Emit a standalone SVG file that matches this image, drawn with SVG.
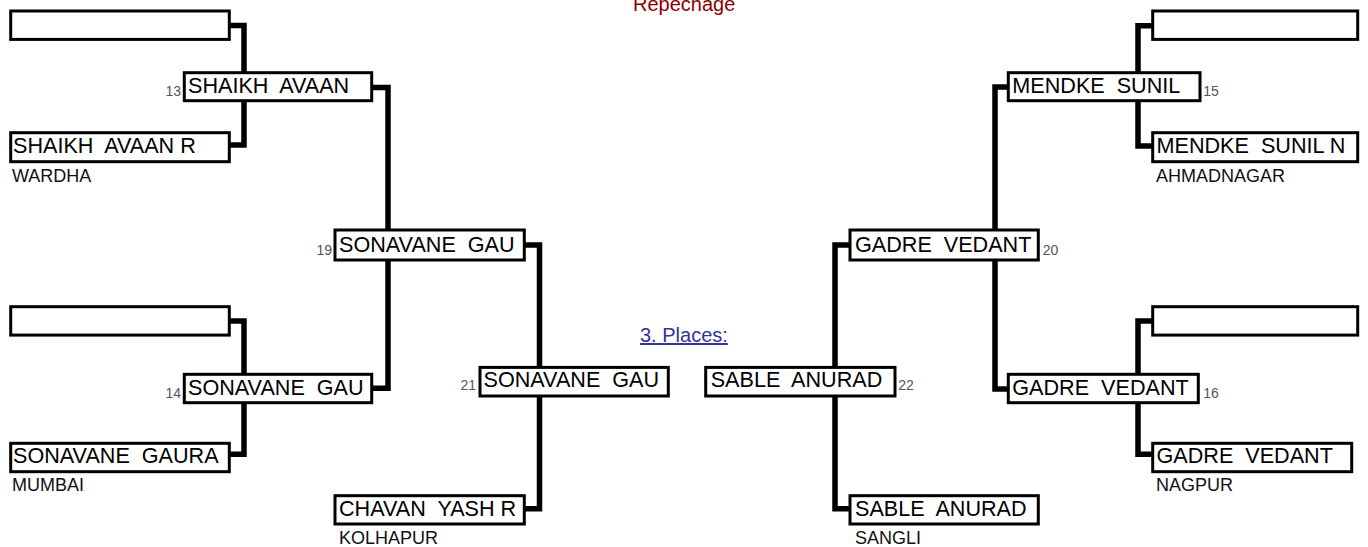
<svg xmlns="http://www.w3.org/2000/svg" width="1368" height="547" viewBox="0 0 1368 547" xml:space="preserve">
<style>
  text { font-family: "Liberation Sans", Arial, sans-serif; white-space: pre; }
  .box { fill: #ffffff; stroke: #000000; stroke-width: 3; }
  .conn { fill: none; stroke: #000000; stroke-width: 5.5; stroke-linejoin: miter; }
  .name { font-size: 21.6px; fill: #000000; }
  .city { font-size: 18px; fill: #111111; }
  .num { font-size: 14px; fill: #555555; }
  .title { font-size: 20px; fill: #8b0000; }
  .link { font-size: 20px; fill: #333399; text-decoration: underline; }
</style>
<rect x="0" y="0" width="1368" height="547" fill="#ffffff"/>

<g id="connectors">
  <path class="conn" d="M229,25.5 H244 V145 H229"/>
  <path class="conn" d="M229,321 H244 V454.2 H229"/>
  <path class="conn" d="M372,87.5 H388 V388.3 H372"/>
  <path class="conn" d="M524,245 H539.5 V508.7 H524"/>
  <path class="conn" d="M1153,25.8 H1138 V146 H1153"/>
  <path class="conn" d="M1153,321 H1138 V454.2 H1153"/>
  <path class="conn" d="M1008,87 H995 V389 H1008"/>
  <path class="conn" d="M850,245 H835 V508.7 H850"/>
</g>

<text class="title" x="633" y="10.5">Repechage</text>
<text class="link" x="640" y="342">3. Places:</text>

<g id="left-empty-top"><rect class="box" x="10.7" y="11" width="218.6" height="28.4"/></g>
<g id="left-b"><rect class="box" x="10.7" y="132.7" width="218.6" height="29"/>
  <text class="name" x="13" y="152.6">SHAIKH  AVAAN R</text>
  <text class="city" x="12" y="181.5">WARDHA</text></g>
<g id="m13"><rect class="box" x="184.3" y="72.7" width="187.4" height="28"/>
  <text class="name" x="188" y="92.6">SHAIKH  AVAAN</text>
  <text class="num" x="181" y="95.5" text-anchor="end">13</text></g>

<g id="left-empty-bottom"><rect class="box" x="10.7" y="306.7" width="218.6" height="28.4"/></g>
<g id="left-c"><rect class="box" x="10.7" y="443.3" width="218.6" height="28.4"/>
  <text class="name" x="13" y="463">SONAVANE  GAURA</text>
  <text class="city" x="12" y="491">MUMBAI</text></g>
<g id="m14"><rect class="box" x="184.3" y="374.3" width="187.4" height="28.4"/>
  <text class="name" x="188" y="394.6">SONAVANE  GAU</text>
  <text class="num" x="181" y="397.5" text-anchor="end">14</text></g>

<g id="m19"><rect class="box" x="335" y="230" width="189.3" height="30"/>
  <text class="name" x="339" y="252">SONAVANE  GAU</text>
  <text class="num" x="332" y="254.5" text-anchor="end">19</text></g>
<g id="m21"><rect class="box" x="480" y="367.4" width="188.3" height="28.6"/>
  <text class="name" x="483.5" y="387">SONAVANE  GAU</text>
  <text class="num" x="476" y="390" text-anchor="end">21</text></g>
<g id="chavan"><rect class="box" x="335" y="495.7" width="189.3" height="28.3"/>
  <text class="name" x="339" y="516.3">CHAVAN  YASH R</text>
  <text class="city" x="339" y="544">KOLHAPUR</text></g>

<g id="right-empty-top"><rect class="box" x="1152.7" y="11" width="205" height="28.4"/></g>
<g id="right-e"><rect class="box" x="1152.7" y="132.7" width="205" height="29"/>
  <text class="name" x="1156.5" y="152.6">MENDKE  SUNIL N</text>
  <text class="city" x="1156" y="181.5">AHMADNAGAR</text></g>
<g id="m15"><rect class="box" x="1008.3" y="72.7" width="191.7" height="28"/>
  <text class="name" x="1012.3" y="92.6">MENDKE  SUNIL</text>
  <text class="num" x="1203.3" y="95.7">15</text></g>

<g id="right-empty-bottom"><rect class="box" x="1152.7" y="306.7" width="205" height="28.4"/></g>
<g id="right-g"><rect class="box" x="1152.7" y="443.3" width="199" height="28.4"/>
  <text class="name" x="1156.5" y="463">GADRE  VEDANT</text>
  <text class="city" x="1156" y="491">NAGPUR</text></g>
<g id="m16"><rect class="box" x="1008.3" y="374.3" width="190" height="28.4"/>
  <text class="name" x="1012.3" y="394.6">GADRE  VEDANT</text>
  <text class="num" x="1203.3" y="397.5">16</text></g>

<g id="m20"><rect class="box" x="850" y="230" width="188.3" height="30"/>
  <text class="name" x="855" y="252">GADRE  VEDANT</text>
  <text class="num" x="1042.7" y="254.5">20</text></g>
<g id="m22"><rect class="box" x="705.7" y="367.4" width="189.3" height="28.6"/>
  <text class="name" x="710.7" y="387">SABLE  ANURAD</text>
  <text class="num" x="898.3" y="390">22</text></g>
<g id="sable"><rect class="box" x="850" y="495.7" width="188.3" height="28.3"/>
  <text class="name" x="855" y="516.3">SABLE  ANURAD</text>
  <text class="city" x="855" y="544">SANGLI</text></g>
</svg>
